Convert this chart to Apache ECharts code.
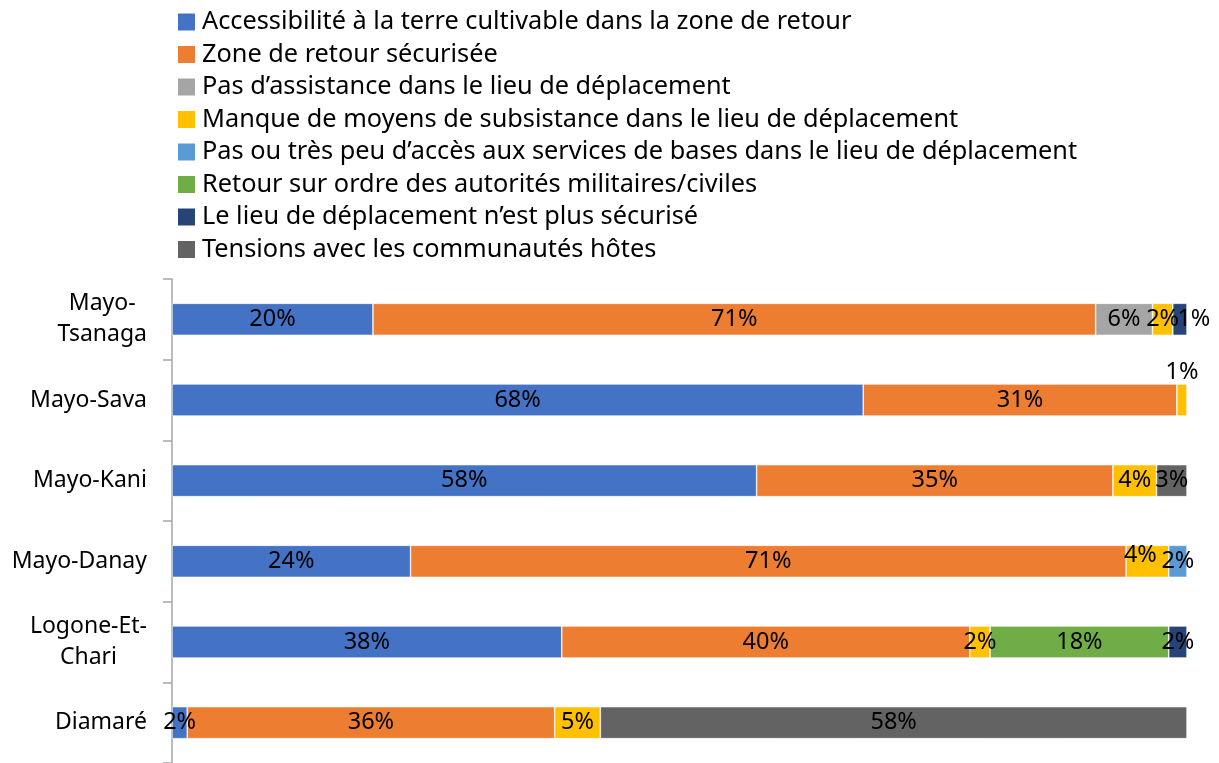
<!DOCTYPE html>
<html>
<head>
<meta charset="utf-8">
<script src="https://cdn.jsdelivr.net/npm/echarts@6/dist/echarts.min.js"></script>
<style>
  html, body { margin: 0; padding: 0; background: #fff; }
  #chart { width: 1219px; height: 763px; }
</style>
</head>
<body>
<div id="chart"></div>
<script>
// catégories (de haut en bas)
var regions = ['Mayo-\nTsanaga', 'Mayo-Sava', 'Mayo-Kani', 'Mayo-Danay', 'Logone-Et-\nChari', 'Diamaré'];

// parts en %
var accessibilite = [19.8, 68.1, 57.6, 23.5, 38.4, 1.5];
var zoneSecurisee = [71.2, 30.9, 35.1, 70.5, 40.2, 36.2];
var pasAssistance = [5.6, 0, 0, 0, 0, 0];
var manqueMoyens = [2.0, 1.0, 4.3, 4.2, 2.0, 4.5];
var pasServices = [0, 0, 0, 1.8, 0, 0];
var ordreAutorites = [0, 0, 0, 0, 17.6, 0];
var lieuNonSecurise = [1.4, 0, 0, 0, 1.8, 0];
var tensions = [0, 0, 3.0, 0, 0, 57.8];

var seriesNames = [
    'Accessibilité à la terre cultivable dans la zone de retour',
    'Zone de retour sécurisée',
    'Pas d\u2019assistance dans le lieu de déplacement',
    'Manque de moyens de subsistance dans le lieu de déplacement',
    'Pas ou très peu d\u2019accès aux services de bases dans le lieu de déplacement',
    'Retour sur ordre des autorités militaires/civiles',
    'Le lieu de déplacement n\u2019est plus sécurisé',
    'Tensions avec les communautés hôtes'
];
var seriesData = [accessibilite, zoneSecurisee, pasAssistance, manqueMoyens,
    pasServices, ordreAutorites, lieuNonSecurise, tensions];
var colors = ['#4472C4', '#ED7D31', '#A5A5A5', '#FFC000', '#5B9BD5', '#70AD47', '#264478', '#636363'];

var FONT = 'Noto Sans';

// quelques étiquettes décalées comme dans l'original
function labelFor(s, i) {
    if (s === 6 && i === 0) return { offset: [14, 0] };
    if (s === 3 && i === 1) return { position: 'top', distance: 0 };
    if (s === 3 && i === 3) return { offset: [-7, -6] };
    return null;
}

var series = seriesData.map(function(arr, s) {
    return {
        name: seriesNames[s],
        type: 'bar',
        stack: 'total',
        barWidth: 32,
        itemStyle: { color: colors[s], borderColor: '#fff', borderWidth: 0.6 },
        label: {
            show: true,
            position: 'inside',
            color: '#000',
            fontFamily: FONT,
            fontSize: 23.5,
            formatter: function(p) {
                return p.value > 0 ? Math.round(p.value) + '%' : '';
            }
        },
        data: arr.map(function(v, i) {
            var item = { value: v > 0 ? v : null };
            var l = labelFor(s, i);
            if (l) item.label = l;
            return item;
        })
    };
});

var myChart = echarts.init(document.getElementById('chart'));
myChart.setOption({
    animation: false,
    color: colors,
    legend: {
        orient: 'vertical',
        left: 178,
        top: 8,
        padding: 0,
        itemWidth: 17,
        itemHeight: 17,
        itemGap: 4.5,
        itemStyle: { borderWidth: 0 },
        icon: 'rect',
        textStyle: { color: '#000', fontFamily: FONT, fontSize: 25.3, lineHeight: 28, padding: [0, 0, 0, 2] },
        data: seriesNames
    },
    grid: { left: 172, right: 32, top: 279, bottom: -2 },
    xAxis: {
        type: 'value',
        min: 0,
        max: 100,
        show: false
    },
    yAxis: {
        type: 'category',
        inverse: true,
        data: regions,
        axisLine: { lineStyle: { color: '#a6a6a6', width: 1.5 } },
        axisTick: { show: true, length: 9, lineStyle: { color: '#a6a6a6', width: 1.5 } },
        axisLabel: {
            margin: 25,
            color: '#000',
            fontFamily: FONT,
            fontSize: 23,
            formatter: function(v) {
                return v.split('\n').map(function(t) { return '{c|' + t + '}'; }).join('\n');
            },
            rich: {
                c: { align: 'center', color: '#000', fontFamily: FONT, fontSize: 23, lineHeight: 31 }
            }
        }
    },
    series: series
});
</script>
</body>
</html>
